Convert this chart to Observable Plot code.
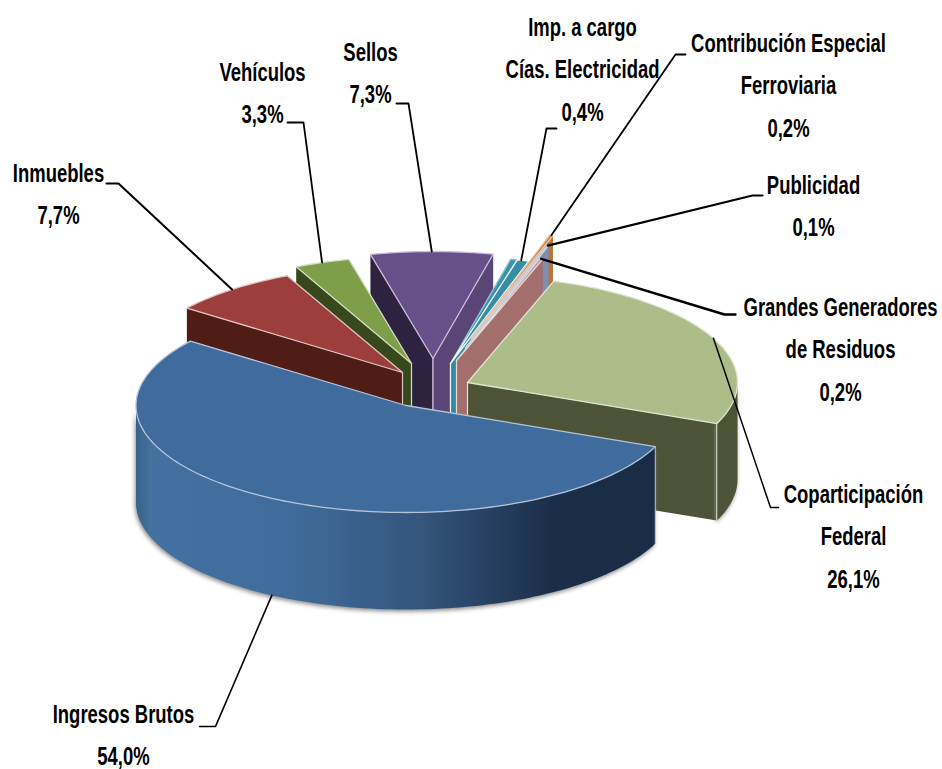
<!DOCTYPE html>
<html><head><meta charset="utf-8">
<script src="https://cdn.jsdelivr.net/npm/d3@7"></script>
<script src="https://cdn.jsdelivr.net/npm/@observablehq/plot@0.6"></script>
<style>html,body{margin:0;padding:0;background:#fff}svg{display:block}</style>
</head><body><div id="chart"></div>
<script>
// ---- data (percent of total, clockwise from the right-hand edge of Ingresos Brutos)
const names = ["Ingresos Brutos","Inmuebles","Vehículos","Sellos","Imp. a cargo Cías. Electricidad","Resto","Contribución Especial Ferroviaria","Publicidad","Grandes Generadores de Residuos","Coparticipación Federal"];
const values = [54.0,7.7,3.3,7.3,0.4,0.7,0.2,0.1,0.2,26.1];
const labelLines = [["Ingresos Brutos"],["Inmuebles"],["Vehículos"],["Sellos"],["Imp. a cargo","Cías. Electricidad"],null,["Contribución Especial","Ferroviaria"],["Publicidad"],["Grandes Generadores","de Residuos"],["Coparticipación","Federal"]];

// ---- layout and style
const W = 942, H = 769, RX = 270, RY = 107, DEPTH = 97, START = 22.6;
const apexX = [405.5,402,411,432.5,450,450,471,465,456,467];
const apexY = [405,372,363,358,363,363,337,347,360,382];
const topFill = ["#406b9d","#9b3e3c","#7f9e49","#66508a","#3b93a9","#378ea4","#c8803f","#7f93b7","#c39a98","#acbd89"];
const topStroke = ["#b4c3d8","#e0c4c0","#d4dfc0","#c9bedb","#8fc6d4","#f1f8fa","#e8c4a8","#c6d0e0","#e8d8d6","#dfe5cf"];
const faceLeft = [null,"#4f1c16","#36481c","#2d2340",null,null,null,null,null,null];
const faceRight = [null,null,null,"#5a4577","#348ba1","#348ba1","url(#orangeFace)","#7b8fb0","#a26f6d","#4d5337"];
const outerFill = ["url(#blueSide)",null,null,null,null,null,null,null,null,"#4d5337"];
const FONT = "'Liberation Sans',sans-serif", FS = 26, STEP = 42.5, SQUEEZE = 0.71;
const labelX = [123,58,262,370,582,null,788,813,840,853];
const labelY = [714,173,72,52,27,null,43,185,307,494];
const elbowFrom = [[199,726],[106,183],[287,122],[396,103],[556,128],null,[685,54],[762,195],[735,314],[778,507]];
const elbowTo = [[215,726],[118,183],[303,122],[408,103],[546,128],null,[675,54],[752,195],[724,314],[770,507]];
const leaderWidth = [1.6,2,1.8,1.8,1.8,null,1.8,2.2,2.4,1.5];
const leaderAt = [0.5,0.5,0.5,0.5,1.6,null,0.5,0.5,0.5,0.5];

// ---- geometry derived from the values
const rad = d => d * Math.PI / 180;
const total = d3.sum(values);
let acc = START;
const slices = values.map((v,i) => {
  const t0 = acc; acc += v / total * 360;
  return {i, v, t0, t1: acc, mid: (t0 + acc) / 2, ax: apexX[i], ay: apexY[i]};
});
const rim = (s,t,drop=0) => ({x: s.ax + RX*Math.cos(rad(t)), y: s.ay + RY*Math.sin(rad(t)) + drop});
const arc = (s,a,b,drop=0) => {
  const n = Math.max(2, Math.ceil(Math.abs(b-a)/1.5));
  return d3.range(n+1).map(k => rim(s, a+(b-a)*k/n, drop));
};
const closed = p => [...p, p[0]];
const fmt = v => v.toFixed(1).replace(".", ",") + "%";
const poly = (pts,o) => Plot.line(closed(pts), {x:"x", y:"y", curve:"linear", strokeLinejoin:"round", ...o});
const seg = (pts,o) => Plot.line(pts, {x:"x", y:"y", curve:"linear", ...o});

const radialFace = (s,t,fill) => {
  const a = {x:s.ax,y:s.ay}, b = rim(s,t);
  const face = [a, b, {x:b.x,y:b.y+DEPTH}, {x:a.x,y:a.y+DEPTH}];
  return [poly(face,{fill}), seg([a,{x:a.x,y:a.y+DEPTH}],{stroke:topStroke[s.i],strokeWidth:1.2})];
};

const pieMarks = [...slices]
  .sort((a,b) => Math.sin(rad(a.mid)) - Math.sin(rad(b.mid)))
  .flatMap(s => {
    const m = [], i = s.i;
    if (faceLeft[i]) m.push(...radialFace(s, s.t0, faceLeft[i]));
    if (faceRight[i]) m.push(...radialFace(s, s.t1, faceRight[i]));
    if (outerFill[i]) {
      // visible part of the outer wall: the arc between the angles 0..180
      const a = Math.max(s.t0, s.t1 > 360 ? 360 : 0), b = Math.min(s.t1, s.t1 > 360 ? 540 : 180);
      const upper = arc(s,a,b), lower = arc(s,b,a,DEPTH);
      m.push(poly([...upper,...lower],{fill:outerFill[i], imageFilter:"drop-shadow(-1px 2px 2px #8a8a8a)"}));
      m.push(seg([rim(s,s.t1 > 360 ? s.t1 : s.t0), rim(s,s.t1 > 360 ? s.t1 : s.t0,DEPTH)],{stroke:topStroke[i],strokeWidth:1}));
    }
    const top = [{x:s.ax,y:s.ay}, ...arc(s,s.t0,s.t1)];
    m.push(poly(top,{fill:topFill[i], stroke:topStroke[i], strokeWidth:1.3}));
    return m;
  });

const leaderMarks = slices.filter(s => labelLines[s.i]).map(s => {
  const wallDrop = Math.sin(rad(s.mid)) > 0 ? DEPTH : 0;
  const end = rim(s, s.t0 + (s.t1 - s.t0) * leaderAt[s.i], wallDrop);
  const [f,e] = [elbowFrom[s.i], elbowTo[s.i]];
  return seg([{x:f[0],y:f[1]},{x:e[0],y:e[1]},end],{stroke:"#000",strokeWidth:leaderWidth[s.i],strokeLinejoin:"round"});
});

const textRows = slices.filter(s => labelLines[s.i]).flatMap(s =>
  [...labelLines[s.i], fmt(s.v)].map((line,k) => ({line, x: labelX[s.i], y: labelY[s.i] + k*STEP})));

const defs = () => {
  const d = d3.create("svg:defs");
  const grad = (id,stops) => {
    const g = d.append("linearGradient").attr("id",id).attr("x1",0).attr("x2",1).attr("y1",0).attr("y2",0);
    stops.forEach(([o,c]) => g.append("stop").attr("offset",o).attr("stop-color",c));
  };
  grad("blueSide",[[0,"#386289"],[0.03,"#44719f"],[0.3,"#3f6c9b"],[0.55,"#34557c"],[0.8,"#1b2e49"],[1,"#1a2c45"]]);
  grad("orangeFace",[[0,"#ecc9ae"],[0.88,"#e4b898"],[0.92,"#b8743a"],[1,"#b8743a"]]);
  return d.node();
};

const chart = Plot.plot({
  width: W, height: H, margin: 0,
  x: {domain:[0,W], range:[0,W], axis:null},
  y: {domain:[0,H], range:[0,H], axis:null},
  style: {background:"#fff"},
  marks: [
    defs,
    ...pieMarks,
    ...leaderMarks,
    Plot.text(textRows,{x:"x",y:"y",text:"line",textAnchor:"middle",lineAnchor:"middle",fontFamily:FONT,fontSize:FS,fontWeight:700,fill:"#000"})
  ]
});
document.getElementById("chart").append(chart);
// The reference lettering is a tall condensed bold face: narrow the glyphs of each label line.
d3.select(chart).selectAll("text").each(function() {
  const len = this.getComputedTextLength();
  this.setAttribute("textLength", (len * SQUEEZE).toFixed(1));
  this.setAttribute("lengthAdjust", "spacingAndGlyphs");
});
</script></body></html>
